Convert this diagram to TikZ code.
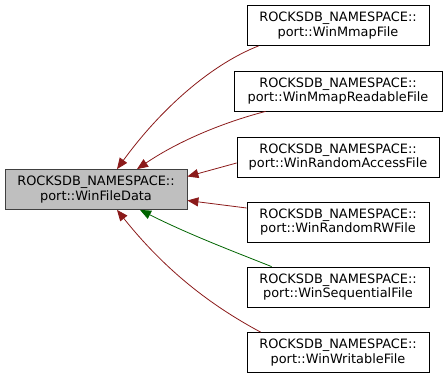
\documentclass[tikz,border=0pt]{standalone}
\usepackage{fontspec}
\setmainfont{DejaVu Sans}
\usetikzlibrary{arrows.meta}
\definecolor{privedge}{HTML}{8B1A1A}
\definecolor{protedge}{HTML}{006400}
\begin{document}
\begin{tikzpicture}[x=1pt,y=-1pt,every node/.style={font=\fontsize{12.9}{14.6}\selectfont},line width=0.8pt]
\tikzset{cls/.style={draw=black,fill=white,align=center,minimum height=40pt,inner sep=2pt}, base/.style={cls,draw=black!75,fill=black!25}, inh/.style={privedge,{Triangle[length=11pt,width=9pt]}-}, inhprot/.style={inh,protedge}}
\useasboundingbox (0,0) rectangle (447,379);
\node[base,minimum width=182pt] (filedata) at (96,189.5) {ROCKSDB\_NAMESPACE::\\port::WinFileData};
\node[cls,minimum width=182pt] (mmap) at (338,25.5) {ROCKSDB\_NAMESPACE::\\port::WinMmapFile};
\node[cls,minimum width=208pt] (mmapread) at (338,91) {ROCKSDB\_NAMESPACE::\\port::WinMmapReadableFile};
\node[cls,minimum width=202pt] (randacc) at (338,157) {ROCKSDB\_NAMESPACE::\\port::WinRandomAccessFile};
\node[cls,minimum width=182pt] (randrw) at (338,222) {ROCKSDB\_NAMESPACE::\\port::WinRandomRWFile};
\node[cls,minimum width=182pt] (seq) at (338,287) {ROCKSDB\_NAMESPACE::\\port::WinSequentialFile};
\node[cls,minimum width=182pt] (writable) at (338,352.5) {ROCKSDB\_NAMESPACE::\\port::WinWritableFile};
\draw[inh] ([xshift=21pt]filedata.north) .. controls (160,110) and (210,65) .. ([xshift=12pt]mmap.south west);
\draw[inh] ([xshift=41pt]filedata.north) .. controls (180,140) and (225,122) .. ([xshift=32pt]mmapread.south west);
\draw[inh] ([yshift=13pt]filedata.east) -- ([yshift=-6pt]randacc.west);
\draw[inh] ([yshift=-11pt]filedata.east) -- ([yshift=14pt]randrw.west);
\draw[inhprot] ([xshift=44pt]filedata.south) .. controls (190,235) and (235,252) .. ([xshift=25pt]seq.north west);
\draw[inh] ([xshift=21pt]filedata.south) .. controls (165,270) and (210,305) .. ([xshift=14pt]writable.north west);
\end{tikzpicture}
\end{document}
